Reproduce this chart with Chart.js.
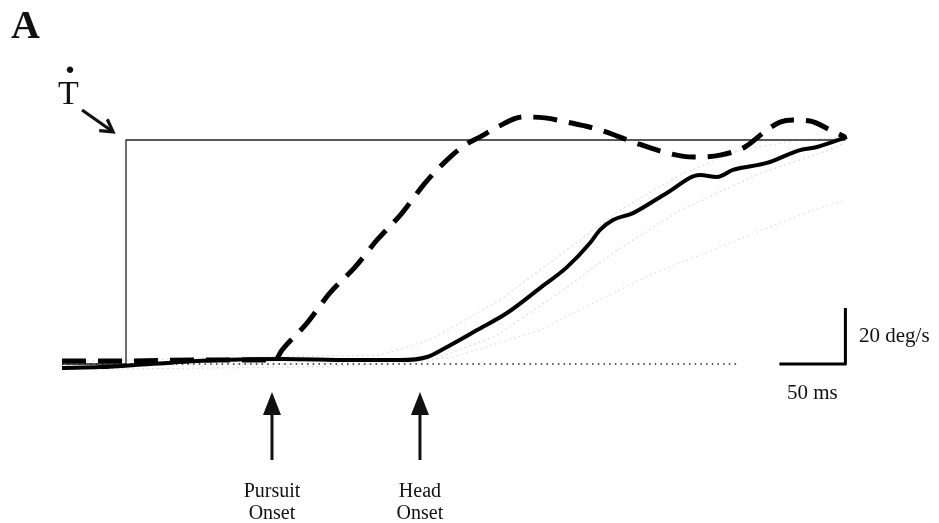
<!DOCTYPE html>
<html>
<head>
<meta charset="utf-8">
<script src="https://cdn.jsdelivr.net/npm/chart.js@4"></script>
<style>
  html, body { margin: 0; padding: 0; background: #fff; }
  #wrap { position: relative; width: 939px; height: 523px; overflow: hidden; }
  .lbl { position: absolute; font-family: "Liberation Serif", "Times New Roman", serif; color: #111; white-space: nowrap; }
</style>
</head>
<body>
<div id="wrap">
  <canvas id="chart" width="939" height="523"></canvas>
  <div class="lbl" style="left:11px; top:5px; font-size:40px; line-height:40px; font-weight:bold;">A</div>
  <div class="lbl" style="left:58px; top:76px; font-size:34px; line-height:34px;">T</div>
  <div class="lbl" style="left:65px; top:40px; font-size:40px; line-height:40px; font-weight:bold;">.</div>
  <div class="lbl" style="left:859px; top:325px; font-size:21px; line-height:21px;">20 deg/s</div>
  <div class="lbl" style="left:787px; top:382px; font-size:21px; line-height:21px;">50 ms</div>
</div>
<script>
// time in ms from target step, velocity in deg/s
const targetT = [-48.5, 0, 0, 545];
const targetV = [0, 0, 80, 80];

const eyeT = [-48.5, 0, 56, 112.9, 118.2, 137.1, 154.5, 173.5, 190.2, 209.1, 226.5, 245.5, 256.8, 268.2, 281.1, 300.8, 317.4, 334.1, 359.1, 384.1, 409.8, 429.5, 450, 468.9, 485.6, 495.5, 505.3, 518.2, 533.3, 544.7];
const eyeV = [1.1, 1.1, 1.4, 1.4, 5.0, 14.6, 25.4, 34.6, 44.3, 53.9, 64.6, 73.9, 78.2, 81.1, 84.6, 88.2, 87.9, 86.4, 83.6, 79.3, 75.4, 73.9, 74.6, 77.5, 83.6, 86.4, 87.1, 86.8, 83.6, 81.1];

const headT = [-48.5, -19.7, 18.2, 68.9, 118.9, 169.7, 207.6, 228, 243.2, 265.9, 288.6, 313.6, 334.1, 351.5, 359.1, 368.9, 384.1, 409.8, 434.8, 447.7, 459.8, 485.6, 510.6, 523.5, 546.2];
const headV = [-1.4, -1.1, 0, 1.4, 1.8, 1.4, 1.4, 2.5, 6.1, 12.1, 18.2, 27.1, 34.6, 43.2, 47.9, 51.4, 53.9, 61.1, 67.5, 66.8, 69.3, 71.8, 76.4, 77.5, 81.1];

// faint single-trial head traces
const trialAT = [-48.5, 56.1, 192.4, 230.3, 283.3, 328.8, 374.2, 419.7, 465.2, 510.6, 544.7];
const trialAV = [0.7, 2.1, 3.2, 8.6, 22.9, 38.9, 55, 67.5, 76.4, 80, 81.1];
const trialBT = [-48.5, 131.8, 245.5, 313.6, 359.1, 397, 434.8, 472.7, 510.6, 544.7];
const trialBV = [-0.7, 0, 2.1, 12.1, 22.9, 31.8, 38.9, 46.1, 53.2, 58.6];
const trialCT = [-48.5, 150, 230, 280, 330, 370, 420, 480, 530, 544.7];
const trialCV = [-2, -1, 1, 10, 26, 40, 55, 68, 76, 79];

const baselineT = [-48.5, 465.2];
const baselineV = [0, 0];

const scaleBarT = [495, 545, 545];
const scaleBarV = [0, 0, 20];

const onsetTimes = [110.6, 222.7];
const onsetLabels = [['Pursuit', 'Onset'], ['Head', 'Onset']];

const pts = (t, v) => t.map((x, i) => ({ x: x, y: v[i] }));

function arrow(ctx, x1, y1, x2, y2, headLen, halfW, filled) {
    const a = Math.atan2(y2 - y1, x2 - x1);
    ctx.beginPath();
    ctx.moveTo(x1, y1);
    ctx.lineTo(x2 - Math.cos(a) * (filled ? headLen * 0.8 : 1), y2 - Math.sin(a) * (filled ? headLen * 0.8 : 1));
    ctx.stroke();
    const bx = x2 - Math.cos(a) * headLen, by = y2 - Math.sin(a) * headLen;
    const nx = -Math.sin(a) * halfW, ny = Math.cos(a) * halfW;
    ctx.beginPath();
    if (filled) {
        ctx.moveTo(x2, y2);
        ctx.lineTo(bx + nx, by + ny);
        ctx.lineTo(bx - nx, by - ny);
        ctx.closePath();
        ctx.fill();
    } else {
        ctx.moveTo(bx + nx, by + ny);
        ctx.lineTo(x2, y2);
        ctx.lineTo(bx - nx, by - ny);
        ctx.stroke();
    }
}

const annotations = {
    id: 'annotations',
    afterDatasetsDraw(chart) {
        const ctx = chart.ctx, xs = chart.scales.x, ys = chart.scales.y;
        ctx.save();
        ctx.strokeStyle = '#111';
        ctx.fillStyle = '#111';
        ctx.lineWidth = 3;
        ctx.lineCap = 'butt';
        // onset arrows below the traces
        onsetTimes.forEach(t => {
            const px = xs.getPixelForValue(t);
            arrow(ctx, px, ys.getPixelForValue(-34.3), px, ys.getPixelForValue(-10), 23, 9, true);
        });
        // arrow from the T-dot label to the step
        ctx.lineWidth = 3.2;
        arrow(ctx, xs.getPixelForValue(-33.3), ys.getPixelForValue(90.7),
              xs.getPixelForValue(-9.8), ys.getPixelForValue(82.9), 12, 7, false);
        ctx.restore();

        // onset labels as html text, centred on the arrows
        const wrap = document.getElementById('wrap');
        onsetTimes.forEach((t, i) => {
            let el = document.getElementById('onset' + i);
            if (!el) {
                el = document.createElement('div');
                el.id = 'onset' + i;
                el.className = 'lbl';
                el.style.cssText += 'font-size:20px; line-height:22px; text-align:center; width:120px;';
                el.innerHTML = onsetLabels[i].join('<br>');
                wrap.appendChild(el);
            }
            el.style.left = (xs.getPixelForValue(t) - 60) + 'px';
            el.style.top = '479px';
        });
    }
};

new Chart(document.getElementById('chart').getContext('2d'), {
    type: 'line',
    data: {
        datasets: [
            { label: 'trial A', data: pts(trialAT, trialAV), borderColor: 'rgba(0,0,0,0.13)', borderWidth: 1.2, borderDash: [2, 3], order: 9 },
            { label: 'trial B', data: pts(trialBT, trialBV), borderColor: 'rgba(0,0,0,0.11)', borderWidth: 1.2, borderDash: [2, 3], order: 9 },
            { label: 'trial C', data: pts(trialCT, trialCV), borderColor: 'rgba(0,0,0,0.13)', borderWidth: 1.2, borderDash: [2, 3], order: 9 },
            { label: 'baseline', data: pts(baselineT, baselineV), borderColor: '#222', borderWidth: 1.5, borderDash: [1.5, 4.2], order: 8 },
            { label: 'target', data: pts(targetT, targetV), borderColor: '#222', borderWidth: 1.3, tension: 0, order: 5 },
            { label: 'head', data: pts(headT, headV), borderColor: '#000', borderWidth: 4, cubicInterpolationMode: 'monotone', order: 2 },
            { label: 'eye', data: pts(eyeT, eyeV), borderColor: '#000', borderWidth: 5, borderDash: [24, 12], cubicInterpolationMode: 'monotone', order: 1 },
            { label: 'scale', data: pts(scaleBarT, scaleBarV), borderColor: '#000', borderWidth: 3, tension: 0, order: 3 }
        ]
    },
    options: {
        responsive: false,
        animation: false,
        events: [],
        layout: { padding: 0 },
        elements: { point: { radius: 0 }, line: { borderCapStyle: 'butt', borderJoinStyle: 'round' } },
        plugins: { legend: { display: false }, tooltip: { enabled: false } },
        scales: {
            x: { type: 'linear', display: false, min: -95.45, max: 615.9 },
            y: { type: 'linear', display: false, min: -56.79, max: 130 }
        }
    },
    plugins: [annotations]
});
</script>
</body>
</html>
